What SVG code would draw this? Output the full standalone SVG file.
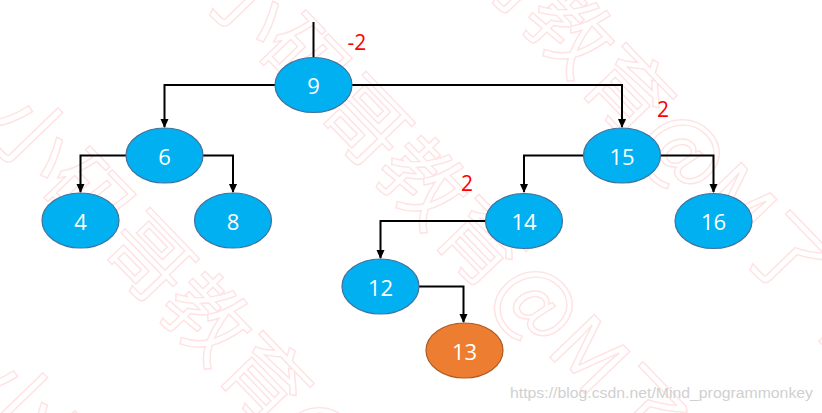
<svg xmlns="http://www.w3.org/2000/svg" width="822" height="413" viewBox="0 0 822 413">
<style>
.wm{font-family:"Noto Sans CJK SC","Liberation Sans",sans-serif;font-size:84px;fill:none;stroke:#ffe2e2;stroke-width:1.4}
.node ellipse{fill:#00B0F0;stroke:#41719C;stroke-width:1.2}
.node.hl ellipse{fill:#ED7D31;stroke:#AE5A21}
.node text{font-family:"Open Sans","Liberation Sans",sans-serif;font-size:22px;fill:#fff;text-anchor:middle;dominant-baseline:central}
.bf{font-family:"Open Sans","Liberation Sans",sans-serif;font-size:21px;fill:#ff0000;text-anchor:middle}
.edge{fill:none;stroke:#000;stroke-width:2}
.url{font-family:"Liberation Sans",Arial,sans-serif;font-size:14px;fill:#d0d0d0}
</style>
<defs>
<marker id="arr" markerWidth="10" markerHeight="10" refX="8" refY="5" orient="auto" markerUnits="userSpaceOnUse">
<path d="M0,1 L9,5 L0,9 Z" fill="#000"/>
</marker>
</defs>
<rect width="822" height="413" fill="#fff"/>
<g id="watermark">
<text class="wm" transform="translate(-19,128) rotate(46)">小码哥教育@M了个J</text>
<text class="wm" transform="translate(197,-8) rotate(46)">小码哥教育@M了个J</text>
<text class="wm" transform="translate(344,-160) rotate(46)">小码哥教育@M了个J</text>
<text class="wm" transform="translate(-34,393) rotate(46)">小码哥</text>
</g>
<g id="connectors">
<path class="edge" d="M313.5,22 V57"/>
<path class="edge" d="M275,85 H164.5 V127" marker-end="url(#arr)"/>
<path class="edge" d="M352,85 H622 V127" marker-end="url(#arr)"/>
<path class="edge" d="M126,155.5 H80.5 V192" marker-end="url(#arr)"/>
<path class="edge" d="M203,155.5 H233 V192" marker-end="url(#arr)"/>
<path class="edge" d="M583,155.5 H524 V192" marker-end="url(#arr)"/>
<path class="edge" d="M661,155.5 H713.5 V192" marker-end="url(#arr)"/>
<path class="edge" d="M485,221 H380.5 V258" marker-end="url(#arr)"/>
<path class="edge" d="M419,286.5 H463.5 V322" marker-end="url(#arr)"/>
</g>
<g id="n9" class="node"><ellipse cx="313.5" cy="85" rx="38.5" ry="27.5"/><text x="313.5" y="85">9</text></g>
<g id="n6" class="node"><ellipse cx="164.5" cy="155.5" rx="38.5" ry="27.5"/><text x="164.5" y="155.5">6</text></g>
<g id="n15" class="node"><ellipse cx="622" cy="155.5" rx="38.5" ry="27.5"/><text x="622" y="155.5">15</text></g>
<g id="n4" class="node"><ellipse cx="80.5" cy="220.5" rx="38.5" ry="27.5"/><text x="80.5" y="220.5">4</text></g>
<g id="n8" class="node"><ellipse cx="233" cy="220.5" rx="38.5" ry="27.5"/><text x="233" y="220.5">8</text></g>
<g id="n14" class="node"><ellipse cx="524" cy="221" rx="38.5" ry="27.5"/><text x="524" y="221">14</text></g>
<g id="n16" class="node"><ellipse cx="713.5" cy="221" rx="38.5" ry="27.5"/><text x="713.5" y="221">16</text></g>
<g id="n12" class="node"><ellipse cx="380.5" cy="286.5" rx="38.5" ry="27.5"/><text x="380.5" y="286.5">12</text></g>
<g id="n13" class="node hl"><ellipse cx="464.5" cy="350.5" rx="38.5" ry="27.5"/><text x="464.5" y="350.5">13</text></g>
<g id="factors">
<text class="bf" x="357" y="50">-2</text>
<text class="bf" x="663" y="117">2</text>
<text class="bf" x="467" y="191">2</text>
</g>
<text class="url" x="510" y="398" textLength="303" lengthAdjust="spacingAndGlyphs">https://blog.csdn.net/Mind_programmonkey</text>
</svg>
